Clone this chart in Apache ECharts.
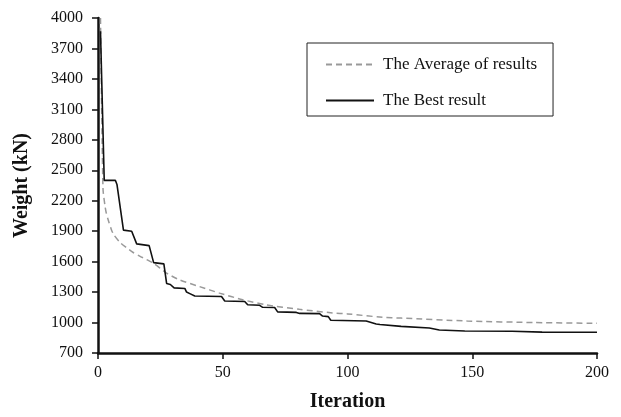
<!DOCTYPE html>
<html>
<head>
<meta charset="utf-8">
<style>
  html, body { margin: 0; padding: 0; background: #fff; }
  #chart { width: 621px; height: 417px; }
</style>
<script src="https://cdn.jsdelivr.net/npm/echarts@6/dist/echarts.min.js"></script>
</head>
<body>
<div id="chart"></div>
<script>
// Convergence history of the structural weight over the iterations
const bestIter = [1, 2.5, 7, 7.6, 10.2, 13.5, 15.5, 16.2, 20.5, 21, 22.3, 26.4, 27.5, 29, 30.5, 34.8, 35.5, 36.8, 38.8, 49.5, 50.8, 58.8, 60, 64.8, 66, 70.8, 72, 79.5, 80.8, 88.8, 90, 92.3, 93.3, 107.5, 111.5, 113, 121.5, 132.8, 136.8, 147, 166, 178, 200];
const bestWeight = [3870, 2400, 2400, 2360, 1910, 1900, 1775, 1762, 1758, 1742, 1590, 1578, 1385, 1375, 1342, 1336, 1300, 1285, 1262, 1257, 1212, 1208, 1175, 1170, 1150, 1148, 1105, 1100, 1090, 1088, 1064, 1058, 1022, 1015, 985, 980, 962, 946, 926, 916, 914, 906, 905];

const avgIter = [1, 2, 2.8, 3.3, 4.1, 5.3, 6.3, 8.8, 11.3, 14.1, 16.7, 19.5, 22.5, 27.3, 32.7, 40.7, 48.7, 58, 67.3, 80.7, 94, 100, 114, 121.5, 148, 175, 200];
const avgWeight = [4000, 2320, 2150, 2080, 2010, 1920, 1866, 1790, 1740, 1690, 1655, 1620, 1580, 1490, 1420, 1354, 1290, 1225, 1175, 1130, 1095, 1085, 1052, 1044, 1015, 1000, 992];

const xTicks = { min: 0, max: 200, interval: 50 };
const yTicks = { min: 700, max: 4000, interval: 300 };

const seriesNames = ['The Average of results', 'The Best result'];

function pairs(xs, ys) {
  return xs.map((x, i) => [x, ys[i]]);
}

const FONT = '"Liberation Serif", "Times New Roman", serif';
const chart = echarts.init(document.getElementById('chart'), null, { renderer: 'canvas' });

const axisLine = { show: true, onZero: false, lineStyle: { color: '#111', width: 2.5 } };
const axisTick = { show: true, inside: false, length: 6, lineStyle: { color: '#111', width: 1.5 } };

chart.setOption({
  animation: false,
  backgroundColor: '#fff',
  textStyle: { fontFamily: FONT },
  grid: { left: 98, right: 24, top: 18, bottom: 62, containLabel: false },
  legend: {
    left: 307,
    top: 43,
    orient: 'vertical',
    padding: [13, 16, 7, 18],
    itemWidth: 48,
    itemHeight: 14,
    itemGap: 19,
    borderColor: '#222',
    borderWidth: 1,
    // line samples only, no marker dot
    itemStyle: { color: 'rgba(0,0,0,0)', borderColor: 'rgba(0,0,0,0)', borderWidth: 0 },
    textStyle: { fontFamily: FONT, fontSize: 17, color: '#111', padding: [0, 0, 0, 4] },
    data: seriesNames
  },
  xAxis: {
    type: 'value',
    min: xTicks.min,
    max: xTicks.max,
    interval: xTicks.interval,
    name: 'Iteration',
    nameLocation: 'middle',
    nameGap: 39,
    nameTextStyle: { fontFamily: FONT, fontSize: 20, fontWeight: 'bold', color: '#111' },
    axisLine: axisLine,
    axisTick: axisTick,
    splitLine: { show: false },
    axisLabel: { fontFamily: FONT, fontSize: 16, color: '#111', margin: 12 }
  },
  yAxis: {
    type: 'value',
    min: yTicks.min,
    max: yTicks.max,
    interval: yTicks.interval,
    name: 'Weight (kN)',
    nameLocation: 'middle',
    nameGap: 66,
    nameRotate: 90,
    nameTextStyle: { fontFamily: FONT, fontSize: 20, fontWeight: 'bold', color: '#111' },
    axisLine: axisLine,
    axisTick: axisTick,
    splitLine: { show: false },
    axisLabel: { fontFamily: FONT, fontSize: 16, color: '#111', margin: 15, formatter: v => String(v) }
  },
  series: [
    {
      name: seriesNames[0],
      type: 'line',
      data: pairs(avgIter, avgWeight),
      smooth: 0.25,
      showSymbol: false,
      symbol: 'none',
      lineStyle: { color: '#999', width: 1.5, type: [6, 4] },
      itemStyle: { color: '#999' },
      z: 2
    },
    {
      name: seriesNames[1],
      type: 'line',
      data: pairs(bestIter, bestWeight),
      showSymbol: false,
      symbol: 'none',
      lineStyle: { color: '#111', width: 1.6 },
      itemStyle: { color: '#111' },
      z: 3
    }
  ]
});
</script>
</body>
</html>
